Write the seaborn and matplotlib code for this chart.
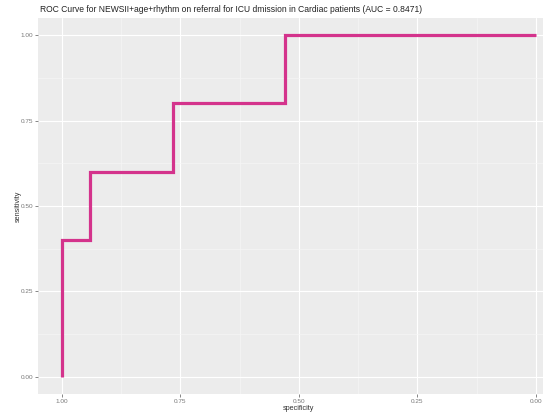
import matplotlib
matplotlib.use("Agg")
import matplotlib.pyplot as plt
from matplotlib.ticker import FixedLocator
import seaborn as sns
import pandas as pd

# ROC coordinates (specificity, sensitivity) for the combined model
specificity = [1.0, 1.0, 0.9412, 0.9412, 0.7647, 0.7647, 0.5294, 0.5294, 0.0]
sensitivity = [0.0, 0.4, 0.4, 0.6, 0.6, 0.8, 0.8, 1.0, 1.0]
auc_value = 0.8471

x_ticks = [1.00, 0.75, 0.50, 0.25, 0.00]
x_tick_labels = ["1.00", "0.75", "0.50", "0.25", "0.00"]
y_ticks = [0.00, 0.25, 0.50, 0.75, 1.00]
y_tick_labels = ["0.00", "0.25", "0.50", "0.75", "1.00"]

title = f"ROC Curve for NEWSII+age+rhythm on referral for ICU dmission in Cardiac patients (AUC = {auc_value})"

sns.set_theme(style="darkgrid", rc={
    "axes.facecolor": "#ECECEC",
    "grid.color": "white",
    "axes.edgecolor": "#ECECEC",
})
plt.rcParams["font.family"] = ["Liberation Sans", "DejaVu Sans"]

W, H = 543, 416
fig = plt.figure(figsize=(W / 100, H / 100), dpi=100)
fig.patch.set_facecolor("white")

# panel spans x 38..543 px, y 18..394 px
ax = fig.add_axes([38 / W, (H - 394) / H, (W - 38) / W, (394 - 18) / H])

df = pd.DataFrame({"specificity": specificity, "sensitivity": sensitivity})
sns.lineplot(data=df, x="specificity", y="sensitivity", sort=False,
             color="#D4338C", linewidth=2.3, ax=ax, estimator=None)
for ln in ax.get_lines():
    ln.set_solid_capstyle("butt")
    ln.set_solid_joinstyle("miter")

ax.set_xlim(1.05, -0.0148)
ax.set_ylim(-0.05, 1.05)

ax.xaxis.set_major_locator(FixedLocator(x_ticks))
ax.set_xticklabels(x_tick_labels)
ax.yaxis.set_major_locator(FixedLocator(y_ticks))
ax.set_yticklabels(y_tick_labels)
ax.xaxis.set_minor_locator(FixedLocator([0.875, 0.625, 0.375, 0.125]))
ax.yaxis.set_minor_locator(FixedLocator([0.125, 0.375, 0.625, 0.875]))

ax.grid(which="major", color="white", linewidth=0.8)
ax.grid(which="minor", color="#F6F6F6", linewidth=0.45)
ax.set_axisbelow(True)

ax.tick_params(which="major", length=2, width=0.5, color="#555555",
               labelsize=4.6, labelcolor="#777777", pad=1.5, bottom=True, left=True)
ax.tick_params(which="minor", length=0)
for s in ax.spines.values():
    s.set_visible(False)

ax.set_xlabel("")
ax.set_ylabel("")
fig.text(18 / W, 1 - 206 / H, "sensitivity", rotation=90, ha="center", va="center",
         fontsize=5.2, color="#333333")
fig.text(298 / W, 1 - 409 / H, "specificity", ha="center", va="center",
         fontsize=5.2, color="#333333")
fig.text(40 / W, 1 - 10 / H, title, ha="left", va="center",
         fontsize=6.15, color="#222222")

fig.savefig("out.png", dpi=100, facecolor="white")
